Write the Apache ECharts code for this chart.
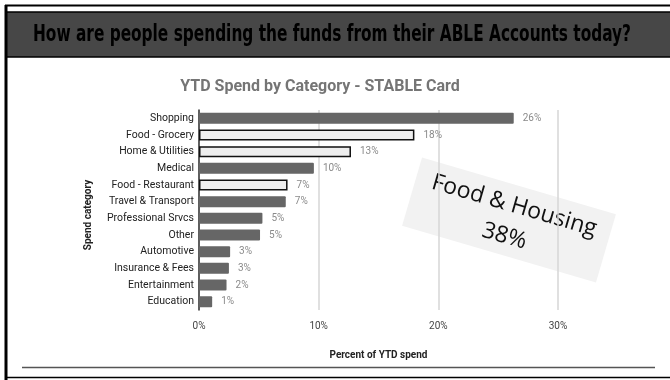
<!DOCTYPE html>
<html>
<head>
<meta charset="utf-8">
<script src="https://cdn.jsdelivr.net/npm/echarts@6/dist/echarts.min.js"></script>
<style>html,body{margin:0;padding:0;background:#fff;}#c{width:670px;height:380px;}</style>
</head>
<body>
<div id="c"></div>
<script>
// ---- data ----
const headerText = 'How are people spending the funds from their ABLE Accounts today?';
const chartTitle = 'YTD Spend by Category - STABLE Card';
const categories = ['Shopping','Food - Grocery','Home & Utilities','Medical','Food - Restaurant','Travel & Transport','Professional Srvcs','Other','Automotive','Insurance & Fees','Entertainment','Education'];
const values = [26.3, 18.0, 12.7, 9.6, 7.4, 7.25, 5.3, 5.1, 2.6, 2.5, 2.3, 1.1];
const foodHousing = ['Food - Grocery','Home & Utilities','Food - Restaurant'];
const xTicks = [0, 10, 20, 30];
const xAxisName = 'Percent of YTD spend';
const yAxisName = 'Spend category';
const annotationLines = ['Food & Housing', '38%'];

// ---- chart ----
const chart = echarts.init(document.getElementById('c'));

const headerFont = 'bold 23px "DejaVu Sans Condensed"';
const ctx = document.createElement('canvas').getContext('2d');
ctx.font = headerFont;
const headerW = ctx.measureText(headerText).width;
const headerScale = 598 / headerW;

const barData = categories.map((c, i) => {
  const hl = foodHousing.indexOf(c) >= 0;
  return {
    value: values[i],
    itemStyle: hl ? {color: '#eeeeee', borderColor: '#111', borderWidth: 1.5}
                  : {color: '#666666', borderRadius: 1}
  };
});

const option = {
  animation: false,
  backgroundColor: '#ffffff',
  grid: {left: 199, top: 110, width: 359, height: 200, containLabel: false},
  xAxis: {
    type: 'value', min: xTicks[0], max: xTicks[xTicks.length - 1], interval: 10,
    axisLine: {show: false}, axisTick: {show: false},
    axisLabel: {formatter: '{value}%', color: '#444', fontSize: 10, margin: 11, fontFamily: 'Roboto'},
    splitLine: {lineStyle: {color: '#d6d6d6', width: 1.5}},
    name: xAxisName, nameLocation: 'middle', nameGap: 40,
    nameTextStyle: {fontWeight: 'bold', fontSize: 10, color: '#222', fontFamily: 'Roboto'}
  },
  yAxis: {
    type: 'category', data: categories, inverse: true,
    axisTick: {show: false},
    axisLine: {show: true, lineStyle: {color: '#333', width: 1.5}},
    axisLabel: {color: '#222', fontSize: 10.5, margin: 5, fontFamily: 'Roboto'}
  },
  series: [{
    type: 'bar', data: barData, barWidth: 11,
    label: {show: true, position: 'right', distance: 9, color: '#8a8a8a', fontSize: 10, fontFamily: 'Roboto',
      formatter: p => Math.round(p.value) + '%'}
  }],
  graphic: [
    {type: 'line', shape: {x1: 5, y1: 5.5, x2: 670, y2: 5.5}, style: {stroke: '#000', lineWidth: 2}},
    {type: 'rect', shape: {x: 6, y: 12, width: 670, height: 45}, style: {fill: '#474747', stroke: '#000', lineWidth: 1.5}},
    {type: 'text', x: 33, y: 35, scaleX: headerScale, style: {text: headerText, font: headerFont, fill: '#000', verticalAlign: 'middle'}},
    {type: 'line', shape: {x1: 6, y1: 5, x2: 6, y2: 380}, style: {stroke: '#000', lineWidth: 3}},
    {type: 'line', shape: {x1: 22, y1: 367.5, x2: 655, y2: 367.5}, style: {stroke: '#555', lineWidth: 1.5}},
    {type: 'line', shape: {x1: 5, y1: 377.5, x2: 670, y2: 377.5}, style: {stroke: '#000', lineWidth: 1.5}},
    {type: 'text', x: 320, y: 87, style: {text: chartTitle, font: 'bold 16px Roboto', fill: '#757575', align: 'center', verticalAlign: 'middle'}},
    {type: 'text', x: 88, y: 215, rotation: Math.PI / 2, style: {text: yAxisName, font: 'bold 10px Roboto', fill: '#222', align: 'center', verticalAlign: 'middle'}},
    {type: 'group', x: 509, y: 220, rotation: -16.3 * Math.PI / 180, z: 100, children: [
      {type: 'rect', shape: {x: -101, y: -35.5, width: 202, height: 71}, style: {fill: '#f2f2f2'}},
      {type: 'text', x: 1, y: -15, style: {text: annotationLines[0], font: '23px "Open Sans"', fill: '#111', align: 'center', verticalAlign: 'middle'}},
      {type: 'text', x: 0, y: 17, style: {text: annotationLines[1], font: '23px "Open Sans"', fill: '#111', align: 'center', verticalAlign: 'middle'}}
    ]}
  ]
};
chart.setOption(option);
</script>
</body>
</html>
